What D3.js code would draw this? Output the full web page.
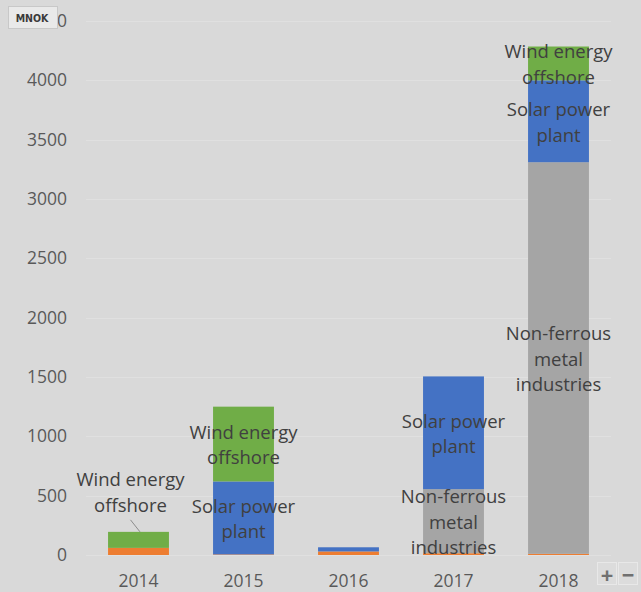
<!DOCTYPE html>
<html>
<head>
<meta charset="utf-8">
<script src="https://cdn.jsdelivr.net/npm/d3@7"></script>
<style>
  html, body { margin: 0; padding: 0; background: #d9d9d9; }
  svg { display: block; }
</style>
</head>
<body>
<svg id="chart" width="641" height="592"></svg>
<script>
// ---- data ----
const years = ["2014", "2015", "2016", "2017", "2018"];
const seriesNames = ["Other", "Non-ferrous metal industries", "Solar power plant", "Wind energy offshore"];
const otherValues = [60, 5, 30, 15, 10];
const nonFerrousValues = [0, 0, 0, 540, 3300];
const solarValues = [0, 615, 35, 950, 690];
const windValues = [135, 630, 0, 0, 285];
const otherLabels = [null, null, null, null, null];
const nonFerrousLabels = [null, null, null, "Non-ferrous\nmetal\nindustries", "Non-ferrous\nmetal\nindustries"];
const solarLabels = [null, "Solar power\nplant", null, "Solar power\nplant", "Solar power\nplant"];
const windLabels = ["Wind energy\noffshore", "Wind energy\noffshore", null, null, "Wind energy\noffshore"];
const yTicks = [0, 500, 1000, 1500, 2000, 2500, 3000, 3500, 4000, 4500];
const unitLabel = "MNOK";
const seriesColors = ["#ed7d31", "#a5a5a5", "#4472c4", "#70ad47"];

// ---- build ----
const seriesValues = [otherValues, nonFerrousValues, solarValues, windValues];
const seriesLabels = [otherLabels, nonFerrousLabels, solarLabels, windLabels];
const table = years.map((y, i) => {
  const row = { year: y };
  seriesNames.forEach((n, k) => row[n] = seriesValues[k][i]);
  return row;
});
const stacked = d3.stack().keys(seriesNames)(table);

const svg = d3.select("#chart");
const font = "'Open Sans', sans-serif";

const x = d3.scaleBand().domain(years).range([86, 611]).paddingInner(0.42).paddingOuter(0.21);
const y = d3.scaleLinear().domain([0, 4500]).range([555, 21]);

// gridlines
svg.append("g").selectAll("line").data(yTicks).join("line")
  .attr("x1", 86).attr("x2", 611)
  .attr("y1", d => Math.round(y(d)) + 0.5).attr("y2", d => Math.round(y(d)) + 0.5)
  .attr("stroke", "#e0e0e0").attr("stroke-width", 1);

// y axis
const yAxis = svg.append("g").attr("transform", "translate(67,0)")
  .call(d3.axisLeft(y).tickValues(yTicks).tickSize(0).tickPadding(0).tickFormat(d3.format("d")));
yAxis.select(".domain").remove();
yAxis.selectAll("text").attr("font-family", font).attr("font-size", 17.5).attr("fill", "#595959");

// x axis
const xAxis = svg.append("g").attr("transform", "translate(0,575)")
  .call(d3.axisBottom(x).tickSize(0).tickPadding(0));
xAxis.select(".domain").remove();
xAxis.selectAll("text").attr("font-family", font).attr("font-size", 17.5).attr("fill", "#595959")
  .attr("dy", "0.71em");

// bars
svg.append("g").selectAll("g").data(stacked).join("g")
  .attr("fill", (d, i) => seriesColors[i])
  .selectAll("rect").data(d => d).join("rect")
  .attr("x", d => x(d.data.year))
  .attr("width", x.bandwidth())
  .attr("y", d => y(d[1]))
  .attr("height", d => Math.max(0, y(d[0]) - y(d[1])));

// labels
const lineH = 25.5;
const lg = svg.append("g");
stacked.forEach((s, k) => {
  s.forEach((seg, i) => {
    const txt = seriesLabels[k][i];
    if (!txt) return;
    const lines = txt.split("\n");
    const top = y(seg[1]), bot = y(seg[0]);
    const cxBar = x(seg.data.year) + x.bandwidth() / 2;
    let cx = cxBar, cy = (top + bot) / 2;
    if (bot - top < 30) {
      cx = cxBar - 8;
      cy = top - 40.5;
      lg.append("line")
        .attr("x1", cx).attr("y1", top - 12)
        .attr("x2", cxBar + 1.5).attr("y2", top)
        .attr("stroke", "#8c8c8c").attr("stroke-width", 1);
    }
    const t = lg.append("text")
      .attr("font-family", font).attr("font-size", 18.5).attr("fill", "#404040")
      .attr("text-anchor", "middle");
    lines.forEach((l, j) => {
      t.append("tspan").attr("x", cx)
        .attr("y", cy + (j - (lines.length - 1) / 2) * lineH)
        .attr("dominant-baseline", "central")
        .text(l);
    });
  });
});

// unit label box
const ub = svg.append("g");
ub.append("rect").attr("x", 8.5).attr("y", 6.5).attr("width", 49).attr("height", 22)
  .attr("fill", "#e9e9e9").attr("stroke", "#c8c8c8");
ub.append("text").attr("x", 32).attr("y", 17.5)
  .attr("font-family", "'DejaVu Sans Condensed', 'DejaVu Sans', sans-serif")
  .attr("font-weight", "bold").attr("font-size", 10.5).attr("fill", "#3a3a3a")
  .attr("text-anchor", "middle").attr("dominant-baseline", "central").text(unitLabel);

// zoom buttons
const btns = [{ s: "+", x: 597 }, { s: "\u2212", x: 618 }];
const bg = svg.append("g");
btns.forEach(b => {
  bg.append("rect").attr("x", b.x + 0.5).attr("y", 562.5).attr("width", 19).attr("height", 22)
    .attr("fill", "#dcdcdc").attr("stroke", "#e8e8e8");
  bg.append("text").attr("x", b.x + 10).attr("y", 574)
    .attr("font-family", font).attr("font-weight", "bold").attr("font-size", 22)
    .attr("fill", "#707070").attr("text-anchor", "middle").attr("dominant-baseline", "central")
    .text(b.s);
});
</script>
</body>
</html>
